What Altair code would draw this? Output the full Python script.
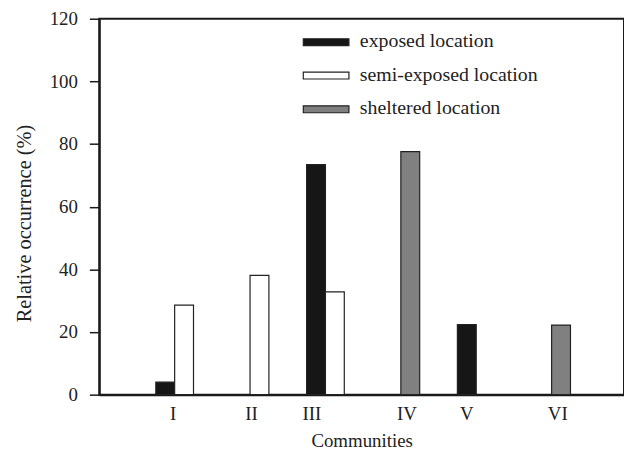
import altair as alt
import pandas as pd

communities = ["I", "II", "III", "IV", "V", "VI"]
label_pos = [3.9, 8.05, 11.26, 16.3, 19.47, 24.3]
series_names = ["exposed location", "semi-exposed location", "sheltered location"]
series_colors = ["#161616", "#ffffff", "#808080"]

exposed = [4.0, 0.0, 73.4, 0.0, 22.4, 0.0]
semi_exposed = [28.6, 38.1, 32.8, 0.0, 0.0, 0.0]
sheltered = [0.0, 0.0, 0.0, 77.6, 0.0, 22.2]

exposed_slot = [3, 7, 11, 15, 19, 23]
semi_slot = [4, 8, 12, 16, 20, 24]
sheltered_slot = [5, 9, 13, 16, 21, 24]

rows = []
for i, c in enumerate(communities):
    for name, vals, slots in zip(series_names,
                                 [exposed, semi_exposed, sheltered],
                                 [exposed_slot, semi_slot, sheltered_slot]):
        if vals[i] > 0:
            rows.append({"community": c, "series": name, "value": vals[i],
                         "x": slots[i], "x2": slots[i] + 1, "base": 0})
df = pd.DataFrame(rows)

label_expr = " : ".join(
    [f"datum.value == {p} ? '{c}'" for p, c in zip(label_pos, communities)]
) + " : ''"

FONT = "Liberation Serif"
INK = "#1a1a1a"

bars = alt.Chart(df).mark_rect(stroke="#222222", strokeWidth=1.2).encode(
    x=alt.X("x:Q",
            scale=alt.Scale(domain=[0, 27.84], nice=False, zero=False),
            axis=alt.Axis(values=label_pos, labelExpr=label_expr,
                          title="Communities", ticks=False, labelPadding=10,
                          titlePadding=8, labelFlush=False)),
    x2="x2:Q",
    y=alt.Y("value:Q",
            scale=alt.Scale(domain=[0, 120], nice=False),
            axis=alt.Axis(values=[0, 20, 40, 60, 80, 100, 120],
                          title="Relative occurrence (%)", tickSize=10,
                          labelPadding=12, titlePadding=15,
                          titleFontSize=20.5, titleY=206)),
    y2="base:Q",
    color=alt.Color("series:N",
                    scale=alt.Scale(domain=series_names, range=series_colors),
                    legend=None),
)

legend_y = [23.7, 57.3, 91.3]
layers = [bars]
for name, color, yc in zip(series_names, series_colors, legend_y):
    ldf = pd.DataFrame({"label": [name]})
    sw = alt.Chart(ldf).mark_rect(color=color, stroke="#222222", strokeWidth=1.2).encode(
        x=alt.value(205.7), x2=alt.value(251.7),
        y=alt.value(yc - 3.5), y2=alt.value(yc + 3.5))
    tx = alt.Chart(ldf).mark_text(align="left", baseline="middle", font=FONT,
                                  fontSize=20, color="#222222").encode(
        x=alt.value(262.7), y=alt.value(yc - 1), text="label:N")
    layers += [sw, tx]

chart = alt.layer(*layers).properties(
    width=529, height=379,
    autosize=alt.AutoSizeParams(type="none"),
    padding={"left": 92, "top": 9, "right": 0, "bottom": 56},
).configure_axis(
    labelFont=FONT, titleFont=FONT, labelFontSize=19, titleFontSize=19,
    titleFontWeight="normal", labelColor="#222222", titleColor="#222222",
    domainColor=INK, domainWidth=2, tickColor=INK, tickWidth=1.5, grid=False,
).configure_view(stroke=INK, strokeWidth=2)

chart.save("out.html", embed_options={"renderer": "svg", "actions": False})
